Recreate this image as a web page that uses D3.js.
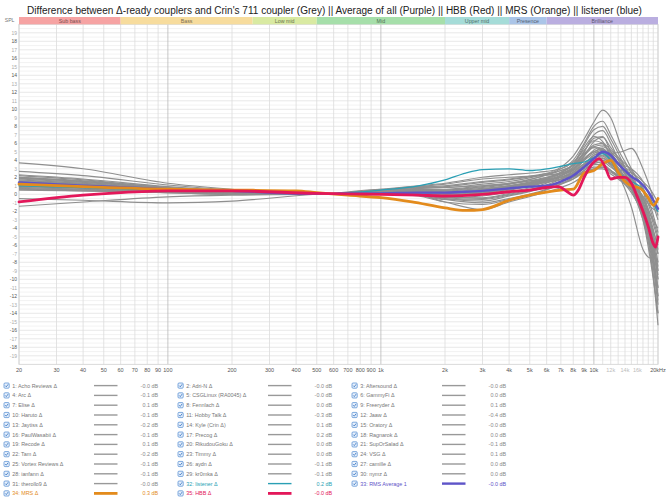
<!DOCTYPE html>
<html><head><meta charset="utf-8">
<script src="https://cdn.jsdelivr.net/npm/d3@7"></script>
<style>body{margin:0;background:#fff}svg{display:block}text{font-family:"Liberation Sans",Arial,Helvetica,sans-serif}</style>
</head><body><svg id="c" width="669" height="500"></svg>
<script>
const titleText = "Difference between Δ-ready couplers and Crin's 711 coupler (Grey) || Average of all (Purple) || HBB (Red) || MRS (Orange) || listener (blue)";
const bandNames = ["Sub bass","Bass","Low mid","Mid","Upper mid","Presence","Brilliance"];
const bandEdges = [20,60,250,500,2000,4000,6000,20000];
const bandColors = ["#f6a3a3","#f7dc9d","#d9eaa2","#a6dfaa","#a5dcd8","#abc5e8","#baaee0"];
const yTicks = d3.range(-19,20);
const xTickValues = [20,30,40,50,60,70,80,90,100,200,300,400,500,600,700,800,900,1000,2000,3000,4000,5000,6000,7000,8000,9000,10000,12000,14000,16000,20000];
const xTickLabels = ["20","30","40","50","60","70","80","90","100","200","300","400","500","600","700","800","900","1k","2k","3k","4k","5k","6k","7k","8k","9k","10k","12k","14k","16k","20kHz"];
const gridFreqs = [20,30,40,50,60,70,80,90,100,200,300,400,500,600,700,800,900,1000,2000,3000,4000,5000,6000,7000,8000,9000,10000,11000,12000,13000,14000,15000,16000,17000,18000,19000,20000];

const greyFreqs = [20,40,100,200,500,1000,1500,2000,3000,4000,5500,7000,8000,9000,10000,11000,12000,13500,15000,17000,18500,20000];
const greyCurves = [
 [3.7,3.0,1.3,0.6,0,0.5,0.9,0.8,1.2,1.5,2.2,3.2,4.5,6.5,8.5,9.9,9.0,5.5,3.0,0.5,-3.5,-8],
 [2.7,2.2,1.1,0.5,0,0.6,0.6,0.5,0.8,1.2,2.0,3.0,4.0,6.0,8.0,8.6,7.0,4.5,2.5,-1.0,-5.5,-12],
 [2.3,1.8,0.9,0.4,0,0.4,0.5,0.3,0.5,0.9,1.6,2.6,3.6,5.8,7.6,8.0,6.5,4.0,1.5,-2.0,-7.0,-15.4],
 [2.2,1.7,0.8,0.4,0,0.3,0.2,-0.2,0.0,0.5,1.2,2.2,3.2,5.0,7.0,7.5,6.0,3.2,1.0,-2.5,-6.0,-11],
 [2.0,1.6,0.8,0.3,0,0.5,0.8,1.0,1.5,1.8,2.3,2.8,3.5,5.5,6.8,6.2,4.5,2.5,0.5,-3.0,-8.0,-14],
 [2.0,1.5,0.7,0.3,0,0.2,0.0,-0.4,-0.2,0.3,1.0,2.0,2.8,4.5,6.2,6.7,5.5,3.8,2.0,-0.5,-3.0,-6.5],
 [1.9,1.5,0.7,0.3,0,0.6,1.0,1.3,2.0,2.3,2.6,3.0,3.8,5.2,6.3,6.0,4.6,3.0,1.2,-1.5,-5.0,-10],
 [1.8,1.4,0.7,0.3,0,0.3,0.3,0.0,0.3,0.8,1.5,2.4,3.2,4.6,5.8,6.0,5.2,4.0,2.8,0.5,-2.0,-5],
 [1.7,1.3,0.6,0.2,0,0.4,0.6,0.5,0.9,1.3,2.0,2.8,3.4,4.8,5.6,5.8,4.8,3.2,1.8,-0.8,-4.0,-9],
 [1.6,1.3,0.6,0.2,0,0.2,-0.1,-0.6,-0.5,0.0,0.8,1.8,2.6,4.0,5.2,5.6,5.0,3.6,2.0,-0.5,-3.5,-7],
 [1.5,1.2,0.6,0.2,0,0.5,0.8,0.9,1.4,1.7,2.2,2.5,3.0,4.2,5.0,5.4,4.2,2.6,1.0,-1.8,-6.5,-13],
 [1.5,1.2,0.5,0.2,0,0.3,0.2,-0.2,0.1,0.6,1.3,2.2,2.9,4.0,4.8,5.2,4.8,5.0,5.4,3.0,0.5,-2.5],
 [1.4,1.1,0.5,0.2,0,0.2,0.1,-0.5,-0.8,-0.2,0.6,1.5,2.2,3.5,4.6,5.0,4.4,3.0,1.5,-1.0,-4.5,-10],
 [1.3,1.0,0.5,0.2,0,0.4,0.7,0.8,1.0,1.2,1.8,2.4,3.0,4.2,5.0,4.8,3.8,2.2,0.8,-2.0,-5.5,-11],
 [1.2,1.0,0.5,0.2,0,0.3,0.4,0.2,0.4,0.8,1.4,2.0,2.6,3.6,4.6,4.8,4.2,3.5,3.0,1.5,-0.5,-3],
 [1.2,0.9,0.4,0.1,0,0.1,-0.2,-0.9,-1.2,-0.6,0.2,1.2,2.0,3.2,4.2,4.6,4.0,2.4,0.6,-3.0,-6.5,-8],
 [1.1,0.9,0.4,0.1,0,0.5,0.9,1.2,1.8,2.0,2.2,2.4,2.8,3.6,4.4,4.5,3.6,2.0,0.5,-2.5,-7.5,-14],
 [1.0,0.8,0.4,0.1,0,0.2,0.2,-0.1,0.2,0.6,1.2,1.8,2.4,3.4,4.2,4.3,3.5,2.8,2.5,1.5,0.5,-1],
 [1.0,0.8,0.4,0.1,0,0.3,0.4,0.3,0.6,1.0,1.5,2.0,2.5,3.4,4.0,4.2,3.6,2.4,1.2,-1.2,-4.0,-7],
 [0.9,0.7,0.3,0.1,0,0.1,0.0,-0.6,-1.0,-0.5,0.3,1.2,1.8,2.8,3.8,4.0,3.4,1.5,-1.5,-6.5,-7.5,-5],
 [0.8,0.6,0.3,0.1,0,0.4,0.6,0.6,1.0,1.3,1.7,2.0,2.4,3.2,3.8,3.6,2.8,1.8,0.6,-1.5,-4.5,-8.5],
 [0.8,0.6,0.3,0.1,0,0.2,0.3,0.1,0.4,0.8,1.3,1.8,2.2,3.0,3.6,3.8,3.2,2.2,1.2,-0.5,-2.5,-4],
 [0.7,0.5,0.3,0.1,0,0.3,0.2,-0.3,-0.4,0.1,0.8,1.5,2.0,2.8,3.5,3.5,2.8,1.6,0.2,-2.5,-6.0,-12],
 [0.6,0.5,0.2,0.1,0,0.2,0.1,-0.4,-0.6,-0.1,0.6,1.3,1.8,2.6,3.2,3.2,2.6,1.8,1.0,-1.0,-3.5,-6],
 [0.6,0.4,0.2,0.0,0,0.3,0.5,0.4,0.7,1.0,1.4,1.7,2.0,2.6,3.0,3.0,2.4,1.5,0.5,-1.8,-5.0,-9.5],
 [0.5,0.4,0.2,0.0,0,0.1,-0.1,-0.9,-1.8,-0.9,0.0,0.8,1.4,2.2,3.0,3.2,2.8,2.0,1.2,-0.2,-1.5,-2],
 [-0.5,-0.7,-1.0,-0.8,0,0.2,0.3,0.2,0.5,0.9,1.5,2.2,3.0,4.5,5.5,5.2,4.0,2.5,1.0,-2.0,-6.0,-12.5],
 [-1.4,-0.9,-0.3,-0.1,0,0.3,0.4,0.1,0.3,0.8,1.6,2.5,3.4,5.0,6.6,6.8,5.0,3.0,1.0,-2.0,-5.0,-9],
 [1.9,1.5,0.7,0.3,0,0.4,0.5,0.2,0.6,1.0,1.7,2.6,3.4,4.8,5.6,5.2,4.2,3.4,2.6,0.8,-1.5,-4.5],
 [1.3,1.0,0.5,0.2,0,0.3,0.3,-0.1,0.2,0.7,1.4,2.2,2.9,4.2,5.0,5.3,4.6,3.2,1.8,-0.3,-2.5,-5.5]
];

const listenerFreqs = [20,40,100,200,500,1000,1500,2000,2500,3000,4000,5000,6000,7000,8000,9000,10000,11000,12000,13000,14000,15000,16500,18000,19000,20000];
const listenerValues = [1.0,0.8,0.5,0.4,0.05,0.5,1.0,1.7,2.5,2.9,3.0,2.8,3.0,3.3,3.6,3.8,4.3,4.8,4.0,2.5,2.0,1.5,0.9,-0.3,-1.2,-2.0];
const rmsFreqs = listenerFreqs;
const rmsValues = [1.4,1.0,0.6,0.4,0.05,0.1,0.2,0.2,0.3,0.4,0.7,0.9,1.0,1.5,2.2,3.2,4.2,5.0,4.6,3.6,2.8,2.1,1.4,0.3,-0.7,-1.7];
const mrsFreqs = [20,40,100,200,400,500,700,1000,1400,2000,2500,3000,4000,5500,7000,8000,9000,10000,11000,12000,13000,14000,15000,16500,18000,19000,20000];
const mrsValues = [1.2,0.9,0.6,0.5,0.4,0.2,-0.1,-0.4,-0.9,-1.6,-1.9,-1.8,-0.7,0.1,0.5,0.6,2.5,2.8,3.6,4.0,2.6,1.5,1.0,0.7,-0.4,-1.3,-0.5];
const hbbFreqs = [20,30,40,60,100,200,500,1000,1500,2000,3000,4000,5000,6000,6800,7500,8000,8500,9000,10000,10600,11300,12000,13000,14000,15000,16000,17000,18000,19000,19500,20000];
const hbbValues = [-0.9,-0.4,-0.1,0.2,0.4,0.4,0.1,0.0,-0.1,-0.2,0.0,0.3,0.5,0.8,0.9,0.3,-0.1,0.6,2.0,3.8,4.2,3.2,1.8,2.0,2.0,1.3,-0.3,-2.0,-3.8,-5.8,-6.2,-5.0];

const legendNames = ["1: Acho Reviews Δ","2: Adri-N Δ","3: Aftersound Δ","4: Arc Δ","5: CSGLinux (RA0045) Δ","6: GammyFi Δ","7: Elise Δ","8: Fennlach Δ","9: Freeryder Δ","10: Haruto Δ","11: Hobby Talk Δ","12: Jaaw Δ","13: Jaytiss Δ","14: Kyle (Crin Δ)","15: Oratory Δ","16: PaulWasabii Δ","17: Precog Δ","18: Ragnarok Δ","19: Recode Δ","20: RikudouGoku Δ","21: SupOrSalad Δ","22: Tam Δ","23: Timmy Δ","24: VSG Δ","25: Vortex Reviews Δ","26: aydn Δ","27: camille Δ","28: ianfann Δ","29: kr0mka Δ","30: nymz Δ","31: therollo9 Δ","32: listener Δ","33: RMS Average 1","34: MRS Δ","35: HBB Δ"];
const legendValues = ["-0.0","-0.0","-0.0","-0.1","-0.0","0.0","0.1","0.0","0.1","-0.1","-0.3","-0.4","-0.2","0.1","-0.0","-0.1","0.2","0.0","0.1","0.0","-0.1","-0.2","0.0","0.1","-0.1","-0.1","0.0","-0.1","-0.1","0.0","-0.0","0.2","-0.0","0.3","-0.0"];

const GREY="#8f8f8f", TEAL="#2a9fb4", PURPLE="#5e54c8", ORANGE="#e38b1c", RED="#e3175a";
const specialStyle = {31:{c:TEAL,w:1.3}, 32:{c:PURPLE,w:2.4}, 33:{c:ORANGE,w:2.8}, 34:{c:RED,w:2.8}};

const svg = d3.select("#c");
const L=19, R=658, T=24.3, B=364.3;
const x = d3.scaleLog().domain([20,20000]).range([L,R]);
const y = d3.scaleLinear().domain([-20,20]).range([B,T]);

const tt = svg.append("text").attr("x",334.5).attr("y",13.5).attr("text-anchor","middle")
  .attr("fill","#222").style("font-size","11px").text(titleText);
const tw = tt.node().getComputedTextLength();
tt.style("font-size",(11*616/tw)+"px");

const g = svg.append("g");
g.selectAll(".hg").data(d3.range(-19.5,20,0.5)).join("line")
  .attr("x1",L).attr("x2",R).attr("y1",d=>y(d)).attr("y2",d=>y(d))
  .attr("stroke",d=>Number.isInteger(d)?"#e2e2e2":"#efefef").attr("stroke-width",0.8);
g.selectAll(".vg").data(gridFreqs).join("line")
  .attr("x1",d=>x(d)).attr("x2",d=>x(d)).attr("y1",T).attr("y2",B)
  .attr("stroke",d=>[100,1000,10000].includes(d)?"#b8b8b8":"#dcdcdc").attr("stroke-width",0.8);
svg.append("rect").attr("x",L).attr("y",T).attr("width",R-L).attr("height",B-T)
  .attr("fill","none").attr("stroke","#d0d0d0").attr("stroke-width",0.8);

const bands = bandNames.map((n,i)=>({n,a:bandEdges[i],b:bandEdges[i+1],c:bandColors[i]}));
svg.selectAll(".band").data(bands).join("rect")
  .attr("x",d=>x(d.a)).attr("width",d=>x(d.b)-x(d.a)).attr("y",17).attr("height",T-17)
  .attr("fill",d=>d.c);
svg.selectAll(".bandt").data(bands).join("text")
  .attr("x",d=>(x(d.a)+x(d.b))/2).attr("y",22.6).attr("text-anchor","middle")
  .style("font-size","5.3px").attr("fill",d=>d3.color(d.c).darker(2)).text(d=>d.n);
svg.append("text").attr("x",14.5).attr("y",22).attr("text-anchor","end").style("font-size","5.2px").attr("fill","#777").text("SPL");

svg.selectAll(".yl").data(yTicks).join("text")
  .attr("x",17).attr("y",d=>y(d)+1.8).attr("text-anchor","end").style("font-size","5px")
  .attr("fill",d=>d%2===0?"#555":"#aaa").text(d=>d);
svg.selectAll(".xl").data(xTickValues).join("text")
  .attr("x",d=>x(d)).attr("y",371.8).attr("text-anchor","middle").style("font-size","5.5px")
  .attr("fill",d=>[12000,14000,16000].includes(d)?"#bbb":"#555").text((d,i)=>xTickLabels[i]);

const line = d3.line().x(d=>x(d[0])).y(d=>y(d[1])).curve(d3.curveMonotoneX);
const plot = svg.append("g");
plot.selectAll(".grey").data(greyCurves).join("path")
  .attr("d",v=>line(greyFreqs.map((f,i)=>[f,v[i]])))
  .attr("fill","none").attr("stroke",GREY).attr("stroke-width",1.15);
const specials = [
  {f:listenerFreqs,v:listenerValues,s:specialStyle[31]},
  {f:rmsFreqs,v:rmsValues,s:specialStyle[32]},
  {f:mrsFreqs,v:mrsValues,s:specialStyle[33]},
  {f:hbbFreqs,v:hbbValues,s:specialStyle[34]}];
plot.selectAll(".sp").data(specials).join("path")
  .attr("d",d=>line(d.f.map((f,i)=>[f,d.v[i]])))
  .attr("fill","none").attr("stroke",d=>d.s.c).attr("stroke-width",d=>d.s.w)
  .attr("stroke-linejoin","round").attr("stroke-linecap","round");

const leg = svg.append("g");
legendNames.forEach((name,i)=>{
  const col=i%3,row=Math.floor(i/3);
  const x0=4+col*174, yc=385.6+row*9.8;
  const st=specialStyle[i];
  const tc=st?st.c:"#777";
  const gg=leg.append("g");
  gg.append("rect").attr("x",x0).attr("y",yc-2.6).attr("width",5.2).attr("height",5.2).attr("rx",1)
    .attr("fill","#eaf2fc").attr("stroke","#4a86d0").attr("stroke-width",0.7);
  gg.append("path").attr("d",`M${x0+1.2},${yc} L${x0+2.3},${yc+1.2} L${x0+4.1},${yc-1.3}`)
    .attr("fill","none").attr("stroke","#2f6fc0").attr("stroke-width",0.8);
  gg.append("text").attr("x",x0+8.2).attr("y",yc+1.9).style("font-size","5.4px").attr("fill",tc).text(name);
  gg.append("line").attr("x1",x0+90).attr("x2",x0+113.5).attr("y1",yc).attr("y2",yc)
    .attr("stroke",st?st.c:"#999").attr("stroke-width",st?Math.max(st.w,1.4):1.4);
  gg.append("text").attr("x",x0+154).attr("y",yc+1.9).attr("text-anchor","end").style("font-size","5.4px")
    .attr("fill",st?st.c:"#888").text(legendValues[i]+" dB");
});
</script></body></html>
